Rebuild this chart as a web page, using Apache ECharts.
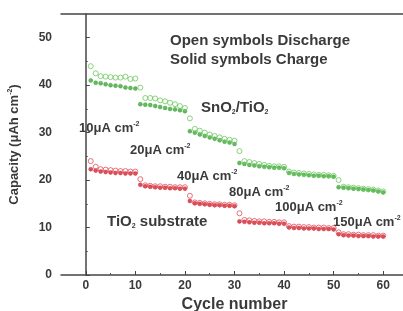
<!DOCTYPE html>
<html>
<head>
<meta charset="utf-8">
<script src="https://cdn.jsdelivr.net/npm/echarts@6/dist/echarts.min.js"></script>
<style>
html, body { margin: 0; padding: 0; background: #fff; }
#chart { width: 403px; height: 311px; }
</style>
</head>
<body>
<div id="chart"></div>
<script>
// cycle numbers 1..60
var cycles = []
for (var i = 1; i <= 60; i++) cycles.push(i)

// SnO2/TiO2 — open = discharge, solid = charge
var snDischarge = [
  44.0, 42.5, 41.9, 41.8, 41.7, 41.6, 41.6, 41.8, 41.3, 41.4,
  39.5, 37.3, 37.3, 37.2, 36.8, 36.6, 36.3, 36.0, 35.6, 35.2,
  33.0, 30.8, 30.4, 30.0, 29.6, 29.3, 29.0, 28.7, 28.5, 28.3,
  26.1, 24.0, 23.8, 23.6, 23.4, 23.2, 23.0, 22.9, 22.9, 22.8,
  21.8, 21.6, 21.5, 21.4, 21.3, 21.2, 21.1, 21.1, 21.0, 20.9,
  20.0, 18.6, 18.5, 18.4, 18.3, 18.2, 18.1, 18.0, 17.8, 17.6
]
var snCharge = [
  41.0, 40.5, 40.4, 40.2, 40.0, 39.9, 39.8, 39.5, 39.4, 39.3,
  36.0, 35.9, 35.8, 35.6, 35.4, 35.2, 35.0, 34.9, 34.7, 34.5,
  30.3, 30.0, 29.6, 29.3, 29.0, 28.7, 28.4, 28.1, 27.9, 27.6,
  23.6, 23.4, 23.2, 23.1, 22.9, 22.8, 22.7, 22.6, 22.6, 22.5,
  21.5, 21.3, 21.2, 21.1, 21.0, 20.9, 20.9, 20.8, 20.8, 20.7,
  18.5, 18.4, 18.3, 18.2, 18.1, 18.0, 17.9, 17.8, 17.6, 17.4
]
// TiO2 substrate
var tiDischarge = [
  24.0, 22.8, 22.3, 22.2, 22.1, 22.0, 21.9, 21.9, 21.8, 21.8,
  20.2, 18.9, 18.8, 18.7, 18.7, 18.6, 18.6, 18.5, 18.5, 18.5,
  16.7, 15.3, 15.2, 15.1, 15.0, 14.9, 14.9, 14.8, 14.8, 14.7,
  13.0, 11.6, 11.5, 11.4, 11.3, 11.3, 11.2, 11.2, 11.1, 11.1,
  10.3, 10.2, 10.2, 10.1, 10.1, 10.0, 10.0, 10.0, 9.9, 9.9,
  9.0, 8.6, 8.6, 8.5, 8.5, 8.4, 8.4, 8.4, 8.3, 8.3
]
var tiCharge = [
  22.3, 22.0, 21.8, 21.7, 21.6, 21.5, 21.5, 21.4, 21.4, 21.4,
  19.0, 18.7, 18.6, 18.5, 18.4, 18.4, 18.3, 18.3, 18.2, 18.2,
  15.6, 15.1, 15.0, 14.9, 14.8, 14.7, 14.7, 14.6, 14.6, 14.5,
  11.3, 11.2, 11.1, 11.0, 11.0, 10.9, 10.9, 10.9, 10.8, 10.8,
  10.0, 9.9, 9.9, 9.8, 9.8, 9.8, 9.7, 9.7, 9.7, 9.6,
  8.6, 8.4, 8.3, 8.3, 8.2, 8.2, 8.2, 8.1, 8.1, 8.1
]

var xMajor = [0, 10, 20, 30, 40, 50, 60]
var xMinor = [5, 15, 25, 35, 45, 55]
var yMajor = [0, 10, 20, 30, 40, 50]
var yMinor = [5, 15, 25, 35, 45]

function pairs (ys) {
  return ys.map(function (v, i) { return [cycles[i], v] })
}

var ink = '#3a3a3a'
var font = 'Liberation Sans'

function label (x, y, text, size) {
  return {
    type: 'text',
    x: x,
    y: y,
    style: {
      text: text,
      fill: ink,
      font: 'bold ' + size + 'px "' + font + '"',
      textVerticalAlign: 'middle',
      rich: {
        sup: { fontSize: 7, fontWeight: 'bold', fill: ink, verticalAlign: 'top', padding: [0, 0, 8, 0] },
        sub: { fontSize: 7, fontWeight: 'bold', fill: ink, verticalAlign: 'bottom', padding: [8, 0, 0, 0] },
        n: { fontSize: size, fontWeight: 'bold', fill: ink }
      }
    }
  }
}

var chart = echarts.init(document.getElementById('chart'))
var axisLine = { lineStyle: { color: '#444', width: 1.5 } }
chart.setOption({
  animation: false,
  textStyle: { fontFamily: font },
  grid: { left: 61, top: 14, right: -5, bottom: 36, outerBoundsMode: 'none', containLabel: false },
  xAxis: [
    {
      type: 'value', min: -5, max: 65,
      axisLine: axisLine,
      splitLine: { show: false },
      axisTick: { inside: true, length: 4, customValues: xMajor, lineStyle: { color: '#444' } },
      axisLabel: { customValues: xMajor, color: ink, fontWeight: 'bold', fontSize: 12, margin: 5 },
      name: 'Cycle number', nameLocation: 'middle', nameGap: 21,
      nameTextStyle: { color: ink, fontWeight: 'bold', fontSize: 16 }
    },
    {
      type: 'value', min: -5, max: 65, position: 'bottom',
      axisLine: { show: false },
      splitLine: { show: false },
      axisTick: { inside: true, length: 2, customValues: xMinor, lineStyle: { color: '#555' } },
      axisLabel: { show: false }
    },
    {
      type: 'value', min: -5, max: 65, position: 'top',
      axisLine: axisLine, splitLine: { show: false },
      axisTick: { show: false }, axisLabel: { show: false }
    }
  ],
  yAxis: [
    {
      type: 'value', min: 0, max: 55,
      axisLine: axisLine,
      splitLine: { show: false },
      axisTick: { inside: true, length: 4, customValues: yMajor, lineStyle: { color: '#444' } },
      axisLabel: { customValues: yMajor, color: ink, fontWeight: 'bold', fontSize: 12, margin: 9 },
      name: '{n|Capacity (μAh cm}{sup|-2}{n|)}', nameLocation: 'middle', nameGap: 40, nameRotate: 90,
      nameTextStyle: {
        rich: {
          n: { fontSize: 13, fontWeight: 'bold', color: ink, fontFamily: font },
          sup: { fontSize: 7, fontWeight: 'bold', color: ink, fontFamily: font, verticalAlign: 'top', padding: [0, 0, 7, 0] }
        }
      }
    },
    {
      type: 'value', min: 0, max: 55, position: 'left',
      axisLine: { show: false },
      splitLine: { show: false },
      axisTick: { inside: true, length: 2, customValues: yMinor, lineStyle: { color: '#555' } },
      axisLabel: { show: false }
    }
  ],
  series: [
    {
      type: 'scatter', data: pairs(snCharge), symbol: 'circle', symbolSize: 4,
      itemStyle: { color: '#3ea83a', borderColor: '#2f9a2c', borderWidth: 0.5 }
    },
    {
      type: 'scatter', data: pairs(snDischarge), symbol: 'circle', symbolSize: 5,
      itemStyle: { color: 'rgba(255,255,255,0)', borderColor: '#6cc85c', borderWidth: 1 }
    },
    {
      type: 'scatter', data: pairs(tiCharge), symbol: 'circle', symbolSize: 4,
      itemStyle: { color: '#d4222f', borderColor: '#c41d2a', borderWidth: 0.5 }
    },
    {
      type: 'scatter', data: pairs(tiDischarge), symbol: 'circle', symbolSize: 5,
      itemStyle: { color: 'rgba(255,255,255,0)', borderColor: '#e0505a', borderWidth: 1 }
    }
  ],
  graphic: [
    label(170, 41, 'Open symbols Discharge', 15),
    label(170, 60, 'Solid symbols Charge', 15),
    label(201, 108, '{n|SnO}{sub|2}{n|/TiO}{sub|2}', 15),
    label(79, 128, '{n|10μA cm}{sup|-2}', 13),
    label(130, 150, '{n|20μA cm}{sup|-2}', 13),
    label(177, 176, '{n|40μA cm}{sup|-2}', 13),
    label(229, 192, '{n|80μA cm}{sup|-2}', 13),
    label(275, 207, '{n|100μA cm}{sup|-2}', 13),
    label(333, 222, '{n|150μA cm}{sup|-2}', 13),
    label(107, 222, '{n|TiO}{sub|2}{n| substrate}', 15)
  ]
})
</script>
</body>
</html>
